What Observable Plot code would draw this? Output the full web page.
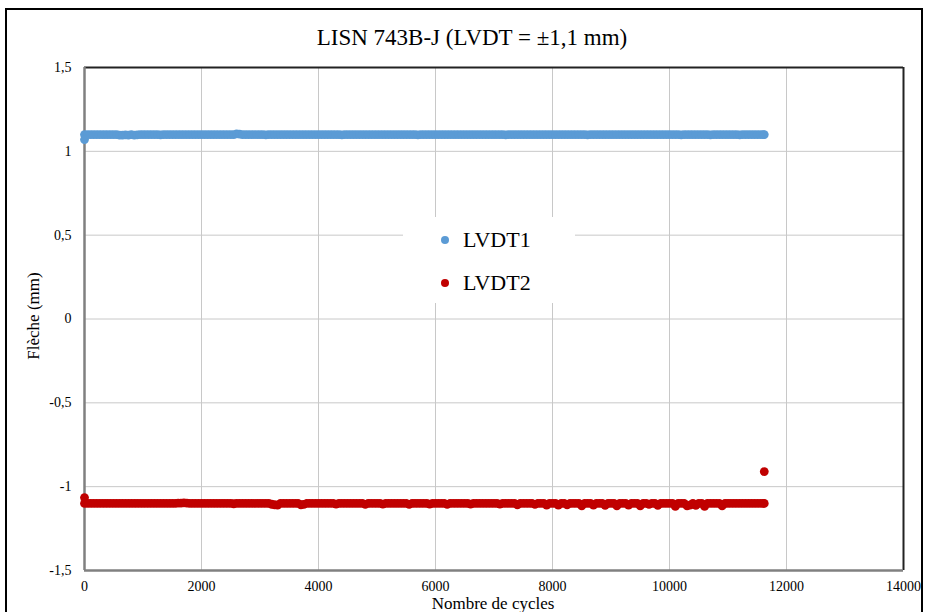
<!DOCTYPE html>
<html><head><meta charset="utf-8">
<script src="https://cdn.jsdelivr.net/npm/d3@7"></script>
<script src="https://cdn.jsdelivr.net/npm/@observablehq/plot@0.6"></script>
<style>
body{margin:0;background:#fff;font-family:"Liberation Serif","Times New Roman",serif;}
#wrap{position:relative;width:926px;height:612px;overflow:hidden;color:#000;}
#wrap *{font-family:"Liberation Serif","Times New Roman",serif;}
#border{position:absolute;left:5px;top:8px;width:914px;height:640px;border:2px solid #000;pointer-events:none;}
#chart{position:absolute;left:0;top:0;}
.lbl{position:absolute;white-space:nowrap;line-height:1;}
#title{left:172px;width:600px;top:26px;text-align:center;font-size:23px;}
#ylab{left:33px;top:316px;font-size:17px;transform:translate(-50%,-50%) rotate(-90deg);}
#xlab{left:493px;top:603px;font-size:17px;transform:translate(-50%,-50%);}
#legend{position:absolute;left:403px;top:217px;width:172px;height:86px;background:#fff;}
.item{position:absolute;left:0;font-size:22px;line-height:1;}
.dot{position:absolute;width:8px;height:8px;border-radius:50%;}
</style></head>
<body>
<div id="wrap">
  <div id="chart"></div>
  <div id="border"></div>
  <div class="lbl" id="title"></div>
  <div class="lbl" id="ylab"></div>
  <div class="lbl" id="xlab"></div>
  <div id="legend"></div>
</div>
<script>
const titleText = "LISN 743B-J (LVDT = \u00b11,1 mm)";
const yLabel = "Flèche (mm)";
const xLabel = "Nombre de cycles";
const seriesNames = ["LVDT1", "LVDT2"];
const seriesColors = ["#5B9BD5", "#C00000"];
const xTicks = [0, 2000, 4000, 6000, 8000, 10000, 12000, 14000];
const yTicks = [-1.5, -1, -0.5, 0, 0.5, 1, 1.5];

const cycles = [
  0,50,100,150,200,250,300,350,400,450,500,550,600,650,700,750,800,850,900,950,
  1000,1050,1100,1150,1200,1250,1300,1350,1400,1450,1500,1550,1600,1650,1700,1750,1800,1850,1900,1950,
  2000,2050,2100,2150,2200,2250,2300,2350,2400,2450,2500,2550,2600,2650,2700,2750,2800,2850,2900,2950,
  3000,3050,3100,3150,3200,3250,3300,3350,3400,3450,3500,3550,3600,3650,3700,3750,3800,3850,3900,3950,
  4000,4050,4100,4150,4200,4250,4300,4350,4400,4450,4500,4550,4600,4650,4700,4750,4800,4850,4900,4950,
  5000,5050,5100,5150,5200,5250,5300,5350,5400,5450,5500,5550,5600,5650,5700,5750,5800,5850,5900,5950,
  6000,6050,6100,6150,6200,6250,6300,6350,6400,6450,6500,6550,6600,6650,6700,6750,6800,6850,6900,6950,
  7000,7050,7100,7150,7200,7250,7300,7350,7400,7450,7500,7550,7600,7650,7700,7750,7800,7850,7900,7950,
  8000,8050,8100,8150,8200,8250,8300,8350,8400,8450,8500,8550,8600,8650,8700,8750,8800,8850,8900,8950,
  9000,9050,9100,9150,9200,9250,9300,9350,9400,9450,9500,9550,9600,9650,9700,9750,9800,9850,9900,9950,
  10000,10050,10100,10150,10200,10250,10300,10350,10400,10450,10500,10550,10600,10650,10700,10750,10800,10850,10900,10950,
  11000,11050,11100,11150,11200,11250,11300,11350,11400,11450,11500,11550,11600,11620
];
const lvdt1 = [
  1.1,1.1,1.1,1.1,1.1,1.1,1.1,1.1,1.1,1.1,1.1,1.1,1.097,1.097,1.098,1.097,1.1,1.097,1.098,1.1,
  1.1,1.1,1.1,1.1,1.1,1.1,1.098,1.1,1.1,1.1,1.1,1.1,1.1,1.1,1.1,1.1,1.1,1.1,1.1,1.1,
  1.1,1.1,1.1,1.1,1.1,1.1,1.1,1.1,1.1,1.1,1.1,1.1,1.104,1.103,1.1,1.1,1.1,1.1,1.1,1.1,
  1.1,1.1,1.098,1.1,1.1,1.1,1.1,1.1,1.1,1.1,1.1,1.1,1.1,1.1,1.1,1.1,1.1,1.1,1.1,1.1,
  1.1,1.1,1.1,1.1,1.1,1.1,1.1,1.1,1.098,1.1,1.1,1.1,1.1,1.1,1.1,1.1,1.1,1.1,1.1,1.1,
  1.1,1.1,1.1,1.1,1.1,1.1,1.1,1.1,1.1,1.1,1.1,1.1,1.1,1.1,1.098,1.1,1.1,1.1,1.1,1.1,
  1.1,1.1,1.1,1.1,1.1,1.1,1.1,1.1,1.1,1.1,1.1,1.1,1.1,1.1,1.1,1.1,1.1,1.1,1.1,1.1,
  1.1,1.1,1.1,1.1,1.098,1.1,1.1,1.1,1.1,1.1,1.1,1.1,1.1,1.1,1.1,1.1,1.1,1.1,1.1,1.1,
  1.1,1.1,1.1,1.1,1.1,1.1,1.1,1.1,1.1,1.1,1.1,1.1,1.098,1.1,1.1,1.1,1.1,1.1,1.1,1.1,
  1.1,1.1,1.1,1.1,1.1,1.1,1.1,1.1,1.1,1.1,1.1,1.1,1.1,1.1,1.1,1.1,1.1,1.1,1.1,1.1,
  1.1,1.1,1.1,1.1,1.098,1.1,1.1,1.1,1.1,1.1,1.1,1.1,1.1,1.1,1.098,1.1,1.1,1.1,1.1,1.1,
  1.1,1.1,1.1,1.1,1.098,1.1,1.1,1.1,1.1,1.1,1.1,1.1,1.1,1.1
];
const lvdt2 = [
  -1.1,-1.1,-1.1,-1.1,-1.1,-1.1,-1.1,-1.1,-1.1,-1.1,-1.1,-1.1,-1.1,-1.1,-1.1,-1.1,-1.1,-1.1,-1.1,-1.1,
  -1.1,-1.1,-1.1,-1.1,-1.1,-1.1,-1.1,-1.1,-1.1,-1.1,-1.1,-1.1,-1.098,-1.098,-1.097,-1.098,-1.1,-1.1,-1.1,-1.1,
  -1.1,-1.1,-1.1,-1.1,-1.1,-1.1,-1.1,-1.1,-1.1,-1.1,-1.1,-1.102,-1.1,-1.1,-1.1,-1.1,-1.1,-1.1,-1.1,-1.1,
  -1.1,-1.1,-1.1,-1.1,-1.105,-1.108,-1.11,-1.1,-1.1,-1.1,-1.1,-1.1,-1.1,-1.1,-1.108,-1.106,-1.1,-1.1,-1.1,-1.1,
  -1.1,-1.1,-1.1,-1.1,-1.1,-1.1,-1.104,-1.1,-1.1,-1.1,-1.1,-1.1,-1.1,-1.1,-1.1,-1.1,-1.106,-1.1,-1.1,-1.1,
  -1.1,-1.1,-1.104,-1.1,-1.1,-1.1,-1.1,-1.1,-1.1,-1.1,-1.1,-1.106,-1.1,-1.1,-1.1,-1.1,-1.1,-1.1,-1.104,-1.1,
  -1.1,-1.1,-1.1,-1.1,-1.106,-1.1,-1.1,-1.1,-1.1,-1.1,-1.1,-1.1,-1.104,-1.1,-1.1,-1.1,-1.1,-1.1,-1.1,-1.1,
  -1.1,-1.1,-1.104,-1.1,-1.1,-1.1,-1.1,-1.1,-1.108,-1.1,-1.1,-1.1,-1.1,-1.1,-1.106,-1.1,-1.1,-1.1,-1.11,-1.1,
  -1.1,-1.1,-1.11,-1.1,-1.1,-1.108,-1.1,-1.1,-1.1,-1.1,-1.115,-1.1,-1.1,-1.1,-1.11,-1.1,-1.1,-1.1,-1.112,-1.1,
  -1.1,-1.1,-1.115,-1.1,-1.1,-1.1,-1.11,-1.1,-1.1,-1.1,-1.115,-1.1,-1.1,-1.105,-1.1,-1.1,-1.112,-1.1,-1.1,-1.1,
  -1.1,-1.1,-1.118,-1.1,-1.1,-1.1,-1.115,-1.11,-1.1,-1.112,-1.1,-1.1,-1.118,-1.1,-1.1,-1.1,-1.1,-1.1,-1.115,-1.1,
  -1.1,-1.1,-1.1,-1.1,-1.1,-1.1,-1.1,-1.1,-1.1,-1.1,-1.1,-1.1,-1.1,-1.1
];
// isolated readings
const lvdt1ExtraCycles = [0];
const lvdt1ExtraValues = [1.07];
const lvdt2ExtraCycles = [0, 11620];
const lvdt2ExtraValues = [-1.065, -0.91];

const pts1 = cycles.map((c, i) => ({x: c, y: lvdt1[i]}))
  .concat(lvdt1ExtraCycles.map((c, i) => ({x: c, y: lvdt1ExtraValues[i]})));
const pts2 = cycles.map((c, i) => ({x: c, y: lvdt2[i]}))
  .concat(lvdt2ExtraCycles.map((c, i) => ({x: c, y: lvdt2ExtraValues[i]})));

const fmt = d => String(d).replace(".", ",");

const plot = Plot.plot({
  width: 926, height: 612,
  marginLeft: 84, marginRight: 23, marginTop: 67, marginBottom: 42,
  style: {fontFamily: '"Liberation Serif","Times New Roman",serif', fontSize: "14px", color: "#000", background: "transparent"},
  x: {domain: [0, 14000]},
  y: {domain: [-1.5, 1.5]},
  marks: [
    Plot.gridY(yTicks, {stroke: "#c8c8c8", strokeOpacity: 1, strokeWidth: 1}),
    Plot.gridX(xTicks, {stroke: "#c8c8c8", strokeOpacity: 1, strokeWidth: 1}),
    Plot.ruleY([1.5], {stroke: "#222", strokeWidth: 2}),
    Plot.ruleX([14000], {stroke: "#222", strokeWidth: 2}),
    Plot.ruleX([0], {stroke: "#808080", strokeWidth: 2.5}),
    Plot.ruleY([-1.5], {stroke: "#808080", strokeWidth: 2.5}),
    Plot.dot(pts1, {x: "x", y: "y", r: 4.4, fill: seriesColors[0], stroke: "none"}),
    Plot.dot(pts2, {x: "x", y: "y", r: 4.4, fill: seriesColors[1], stroke: "none"}),
    Plot.axisY(yTicks, {tickSize: 0, tickPadding: 13, tickFormat: fmt, label: null, fontSize: 14}),
    Plot.axisX(xTicks, {tickSize: 0, tickPadding: 11, tickFormat: d => String(d), label: null, fontSize: 14})
  ]
});
document.getElementById("chart").appendChild(plot);
document.getElementById("title").textContent = titleText;
document.getElementById("ylab").textContent = yLabel;
document.getElementById("xlab").textContent = xLabel;

const legend = document.getElementById("legend");
seriesNames.forEach((name, i) => {
  const top = 23 + i * 43;
  const dot = document.createElement("div");
  dot.className = "dot";
  dot.style.left = "38px";
  dot.style.top = (top - 4) + "px";
  dot.style.background = seriesColors[i];
  legend.appendChild(dot);
  const t = document.createElement("div");
  t.className = "item";
  t.style.left = "60px";
  t.style.top = (top - 11) + "px";
  t.textContent = name;
  legend.appendChild(t);
});
</script>
</body></html>
